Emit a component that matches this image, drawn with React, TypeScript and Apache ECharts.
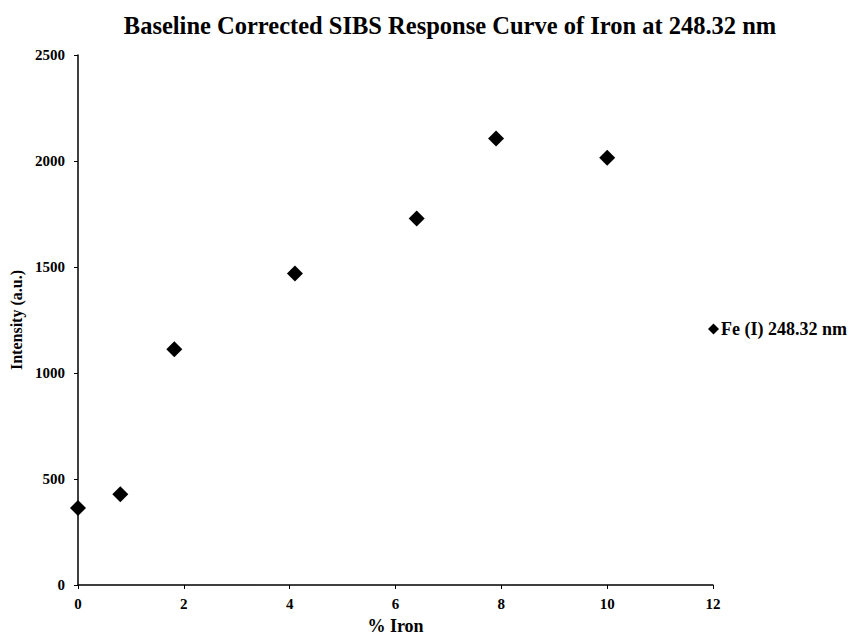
import React, { useEffect, useRef } from "react";
import * as echarts from "echarts";

const ironPercent = [0, 0.8, 1.82, 4.1, 6.4, 7.9, 10.0];
const intensity = [363, 428, 1112, 1469, 1729, 2106, 2015];
const seriesName = "Fe (I) 248.32 nm";
const titleText = "Baseline Corrected SIBS Response Curve of Iron at 248.32 nm";

const FONT = "'Liberation Serif', 'Times New Roman', serif";

export default function App() {
  const ref = useRef<HTMLDivElement>(null);
  useEffect(() => {
    const chart = echarts.init(ref.current!, null, { renderer: "svg" });
    const data = ironPercent.map((x, i) => [x, intensity[i]]);
    chart.setOption({
      animation: false,
      backgroundColor: "#ffffff",
      title: {
        text: titleText,
        left: 445,
        textAlign: "center",
        top: 8,
        textStyle: { fontFamily: FONT, fontWeight: "bold", fontSize: 24.5, color: "#000" },
      },
      legend: {
        left: 703,
        top: 315,
        itemWidth: 11,
        itemHeight: 11,
        itemGap: 4,
        icon: "diamond",
        data: [seriesName],
        textStyle: { fontFamily: FONT, fontWeight: "bold", fontSize: 18, color: "#000", padding: [0, 0, 0, -3] },
      },
      grid: { left: 78, right: 143, top: 55, bottom: 51, containLabel: false },
      xAxis: {
        type: "value",
        min: 0,
        max: 12,
        interval: 2,
        name: "% Iron",
        nameLocation: "middle",
        nameGap: 32,
        nameTextStyle: { fontFamily: FONT, fontWeight: "bold", fontSize: 18, color: "#000" },
        axisLine: { show: true, lineStyle: { color: "#000", width: 1.5 } },
        axisTick: { show: true, inside: false, length: 4, lineStyle: { color: "#000" } },
        axisLabel: { fontFamily: FONT, fontWeight: "bold", fontSize: 15, color: "#000", margin: 11 },
        splitLine: { show: false },
      },
      yAxis: {
        type: "value",
        min: 0,
        max: 2500,
        interval: 500,
        name: "Intensity (a.u.)",
        nameLocation: "middle",
        nameGap: 53,
        nameTextStyle: { fontFamily: FONT, fontWeight: "bold", fontSize: 16, color: "#000" },
        axisLine: { show: true, lineStyle: { color: "#000", width: 1.5 } },
        axisTick: { show: true, inside: false, length: 4, lineStyle: { color: "#000" } },
        axisLabel: {
          fontFamily: FONT,
          fontWeight: "bold",
          fontSize: 15,
          color: "#000",
          margin: 13,
          formatter: (v: number) => String(v),
        },
        splitLine: { show: false },
      },
      series: [
        {
          name: seriesName,
          type: "scatter",
          symbol: "diamond",
          symbolSize: 16,
          itemStyle: { color: "#000", opacity: 1 },
          data,
        },
      ],
    });
    return () => chart.dispose();
  }, []);
  return (
    <div
      ref={ref}
      style={{ position: "fixed", left: 0, top: 0, width: 856, height: 640, background: "#fff" }}
    />
  );
}
